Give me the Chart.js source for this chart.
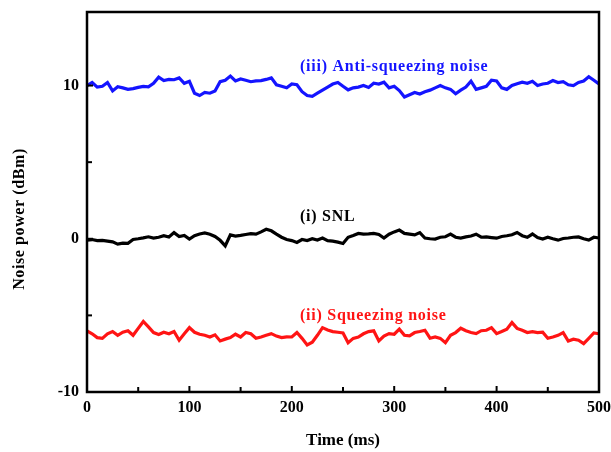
<!DOCTYPE html>
<html>
<head>
<meta charset="utf-8">
<script src="https://cdn.jsdelivr.net/npm/chart.js@4/dist/chart.umd.min.js"></script>
<style>
html,body{margin:0;padding:0;background:#fff;}
#wrap{width:611px;height:452px;position:relative;}
</style>
</head>
<body>
<div id="wrap"><canvas id="c" width="611" height="452"></canvas></div>
<script>
// ---- Data (time in ms, noise power in dBm) ----
const timeMs = [0,5,10,15,20,25,30,35,40,45,50,55,60,65,70,75,80,85,90,95,100,105,110,115,120,125,130,135,140,145,150,155,160,165,170,175,180,185,190,195,200,205,210,215,220,225,230,235,240,245,250,255,260,265,270,275,280,285,290,295,300,305,310,315,320,325,330,335,340,345,350,355,360,365,370,375,380,385,390,395,400,405,410,415,420,425,430,435,440,445,450,455,460,465,470,475,480,485,490,495,500];

const antiSqueezing = [10.0,10.2,9.9,9.95,10.2,9.65,9.92,9.85,9.75,9.8,9.88,9.95,9.92,10.15,10.55,10.33,10.4,10.38,10.5,10.15,10.28,9.5,9.35,9.55,9.5,9.65,10.25,10.35,10.62,10.3,10.43,10.35,10.25,10.3,10.32,10.4,10.5,10.05,9.95,9.85,10.1,10.05,9.6,9.35,9.3,9.5,9.7,9.9,10.1,10.2,9.95,9.72,9.85,9.9,10.0,9.88,10.15,10.1,10.22,9.85,9.95,9.67,9.25,9.4,9.55,9.45,9.6,9.7,9.85,10.0,9.85,9.75,9.46,9.7,9.9,10.28,9.75,9.85,9.95,10.35,10.3,9.85,9.75,10.0,10.12,10.22,10.15,10.28,10.0,10.1,10.15,10.33,10.2,10.25,10.05,10.0,10.2,10.3,10.58,10.35,10.1];

const snl = [-0.09,-0.05,-0.12,-0.1,-0.15,-0.2,-0.35,-0.28,-0.3,-0.05,0.0,0.06,0.13,0.05,0.1,0.2,0.12,0.4,0.15,0.22,-0.02,0.2,0.31,0.38,0.3,0.15,-0.1,-0.46,0.25,0.18,0.22,0.28,0.33,0.3,0.45,0.62,0.52,0.3,0.1,-0.05,-0.12,-0.24,-0.05,-0.12,0.0,-0.08,0.05,-0.12,-0.15,-0.22,-0.31,0.1,0.22,0.35,0.3,0.32,0.35,0.28,0.05,0.3,0.45,0.57,0.35,0.3,0.25,0.4,0.05,0.0,-0.02,0.1,0.13,0.3,0.1,0.05,0.12,0.18,0.3,0.1,0.12,0.08,0.04,0.15,0.2,0.26,0.41,0.2,0.1,0.31,0.08,-0.02,0.1,0.0,-0.09,0.02,0.05,0.1,0.12,0.0,-0.09,0.1,0.05];

const squeezing = [-6.01,-6.2,-6.45,-6.5,-6.2,-6.05,-6.3,-6.1,-6.0,-6.3,-5.85,-5.4,-5.75,-6.12,-6.25,-6.1,-6.2,-6.05,-6.62,-6.2,-5.8,-6.1,-6.23,-6.3,-6.41,-6.27,-6.67,-6.55,-6.45,-6.23,-6.41,-6.12,-6.2,-6.49,-6.41,-6.3,-6.19,-6.35,-6.45,-6.4,-6.41,-6.12,-6.5,-6.93,-6.75,-6.3,-5.8,-5.95,-6.06,-6.1,-6.15,-6.78,-6.5,-6.41,-6.2,-6.06,-6.01,-6.67,-6.35,-6.19,-6.23,-5.9,-6.3,-6.34,-6.12,-6.05,-5.97,-6.49,-6.41,-6.5,-6.78,-6.3,-6.12,-5.84,-6.0,-6.12,-6.19,-6.0,-5.97,-5.8,-6.19,-6.05,-5.9,-5.47,-5.85,-5.97,-6.12,-6.06,-6.12,-6.1,-6.49,-6.41,-6.3,-6.12,-6.67,-6.55,-6.62,-6.84,-6.5,-6.15,-6.2];

const xTickLabels = [0,100,200,300,400,500];
const yTickLabels = [-10,0,10];

const labelTexts = ['(iii) Anti-squeezing noise','(i) SNL','(ii) Squeezing noise'];
const labelColors = ['#1414ff','#000000','#ff1414'];
const labelPos = [[208,11.2],[208,1.44],[208,-5.03]];

const FONT = '"Liberation Serif","DejaVu Serif",serif';

const frame = {
  id:'frame',
  afterDatasetsDraw(chart){
    const {ctx, chartArea:a, scales:{x,y}} = chart;
    ctx.save();
    ctx.strokeStyle='#000';
    ctx.lineWidth=2.5;
    ctx.strokeRect(a.left,a.top,a.right-a.left,a.bottom-a.top);
    ctx.lineWidth=2;
    for(let v=0; v<=500; v+=50){
      const px=x.getPixelForValue(v);
      const len = (v%100===0)?6:5;
      ctx.beginPath(); ctx.moveTo(px,a.bottom); ctx.lineTo(px,a.bottom-len); ctx.stroke();
    }
    for(let v=-10; v<=10; v+=5){
      const py=y.getPixelForValue(v);
      const len = (v%10===0)?6:5;
      ctx.beginPath(); ctx.moveTo(a.left,py); ctx.lineTo(a.left+len,py); ctx.stroke();
    }
    ctx.font='bold 16px '+FONT;
    ctx.letterSpacing='0.75px';
    ctx.textBaseline='middle';
    ctx.textAlign='left';
    labelTexts.forEach((t,i)=>{
      ctx.fillStyle=labelColors[i];
      ctx.fillText(t, x.getPixelForValue(labelPos[i][0]), y.getPixelForValue(labelPos[i][1]));
    });
    // y axis title
    ctx.fillStyle='#000';
    ctx.letterSpacing='0.6px';
    ctx.translate(20, 219);
    ctx.rotate(-Math.PI/2);
    ctx.textAlign='center';
    ctx.fillText('Noise power (dBm)',0,0);
    ctx.restore();
  }
};

new Chart(document.getElementById('c'),{
  type:'line',
  data:{labels:timeMs,datasets:[
    {data:timeMs.map((t,i)=>({x:t,y:antiSqueezing[i]})),borderColor:'#1414ff',borderWidth:3.2,pointRadius:0,tension:0},
    {data:timeMs.map((t,i)=>({x:t,y:snl[i]})),borderColor:'#000',borderWidth:3.2,pointRadius:0,tension:0},
    {data:timeMs.map((t,i)=>({x:t,y:squeezing[i]})),borderColor:'#ff1414',borderWidth:3.2,pointRadius:0,tension:0}
  ]},
  options:{
    responsive:false,animation:false,
    layout:{padding:{left:0,right:12,top:12,bottom:0}},
    plugins:{legend:{display:false},tooltip:{enabled:false}},
    scales:{
      x:{type:'linear',min:0,max:500,
        afterBuildTicks:s=>{s.ticks=xTickLabels.map(v=>({value:v}));},
        afterFit:s=>{s.height=60;s.paddingLeft=0;s.paddingRight=0;},
        grid:{display:false,drawTicks:false},border:{display:false},
        ticks:{color:'#000',padding:6,font:{family:FONT,weight:'bold',size:16}},
        title:{display:true,text:'Time (ms)',color:'#000',font:{family:FONT,weight:'bold',size:17},padding:{top:15,bottom:1}}
      },
      y:{type:'linear',min:-10,max:14.8,
        afterBuildTicks:s=>{s.ticks=yTickLabels.map(v=>({value:v}));},
        afterFit:s=>{s.width=87;s.paddingTop=0;s.paddingBottom=0;},
        grid:{display:false,drawTicks:false},border:{display:false},
        ticks:{color:'#000',padding:8,font:{family:FONT,weight:'bold',size:16}},
        title:{display:false}
      }
    }
  },
  plugins:[frame]
});
</script>
</body>
</html>
